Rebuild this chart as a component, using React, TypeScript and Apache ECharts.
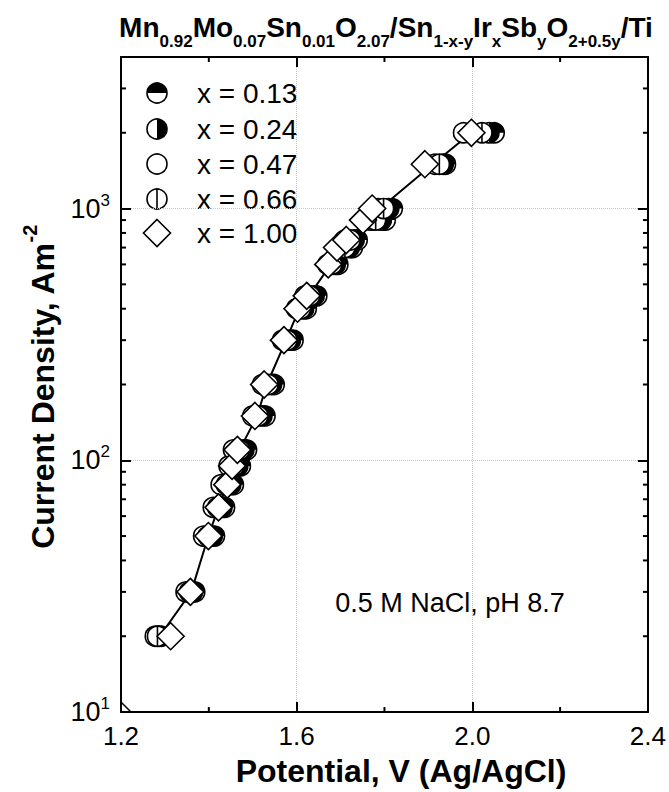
import React, { useEffect, useRef } from "react";
import * as echarts from "echarts";

// ---------- data ----------
const currents = [20, 30, 50, 65, 80, 95, 110, 150, 200, 300, 400, 450, 600, 700, 750, 900, 1000, 1500, 2000];
const potX013 = [1.292, 1.368, 1.413, 1.436, 1.456, 1.472, 1.486, 1.528, 1.549, 1.592, 1.622, 1.646, 1.694, 1.727, 1.738, 1.802, 1.818, 1.939, 2.050];
const potX024 = [1.287, 1.363, 1.408, 1.430, 1.450, 1.466, 1.480, 1.521, 1.543, 1.586, 1.616, 1.640, 1.688, 1.720, 1.731, 1.793, 1.810, 1.934, 2.038];
const potX047 = [1.278, 1.348, 1.388, 1.410, 1.428, 1.446, 1.456, 1.500, 1.522, 1.568, 1.600, 1.619, 1.671, 1.700, 1.710, 1.768, 1.785, 1.915, 1.980];
const potX066 = [1.283, 1.356, 1.398, 1.420, 1.440, 1.457, 1.470, 1.512, 1.535, 1.578, 1.609, 1.630, 1.680, 1.710, 1.722, 1.780, 1.798, 1.925, 2.022];
const potX100 = [1.313, 1.358, 1.399, 1.422, 1.442, 1.453, 1.465, 1.505, 1.526, 1.571, 1.602, 1.623, 1.672, 1.692, 1.713, 1.751, 1.772, 1.892, 1.998];
const fitPotential = [1.288, 1.360, 1.399, 1.422, 1.442, 1.458, 1.470, 1.510, 1.532, 1.576, 1.606, 1.628, 1.678, 1.706, 1.718, 1.772, 1.790, 1.910, 1.998];

const seriesNames = ["x = 0.13", "x = 0.24", "x = 0.47", "x = 0.66", "x = 1.00"];
const seriesKinds = ["topHalf", "rightHalf", "open", "vbar", "diamond"];
const seriesPots = [potX013, potX024, potX047, potX066, potX100];

const minorYTicks = [20, 30, 40, 50, 60, 70, 80, 90, 200, 300, 400, 500, 600, 700, 800, 900, 2000, 3000];
const minorXTicks = [1.4, 1.8, 2.2];

const titleParts = [
  ["m", "Mn"], ["s", "0.92"], ["m", "Mo"], ["s", "0.07"], ["m", "Sn"], ["s", "0.01"], ["m", "O"], ["s", "2.07"],
  ["m", "/Sn"], ["s", "1-x-y"], ["m", "Ir"], ["s", "x"], ["m", "Sb"], ["s", "y"], ["m", "O"], ["s", "2+0.5y"], ["m", "/Ti"],
];
const xAxisTitle = "Potential, V (Ag/AgCl)";
const yAxisTitle = "Current Density, Am";
const yAxisTitleSup = "-2";
const annotation = "0.5 M NaCl, pH 8.7";

// ---------- style ----------
const FONT = "'Liberation Sans', Arial, Helvetica, sans-serif";
const R = 10;
const D = 13.5;
const LW = 1.6;

function symbolShapes(kind: string, cx: number, cy: number): any[] {
  const st = { stroke: "#000", lineWidth: LW };
  if (kind === "diamond") {
    return [{
      type: "polygon",
      shape: { points: [[cx, cy - D], [cx + D, cy], [cx, cy + D], [cx - D, cy]] },
      style: { fill: "#fff", ...st },
    }];
  }
  const out: any[] = [{ type: "circle", shape: { cx, cy, r: R }, style: { fill: "#fff", ...st } }];
  if (kind === "topHalf") {
    out.push({ type: "sector", shape: { cx, cy, r: R, r0: 0, startAngle: Math.PI, endAngle: 2 * Math.PI, clockwise: true }, style: { fill: "#000" } });
  } else if (kind === "rightHalf") {
    out.push({ type: "sector", shape: { cx, cy, r: R, r0: 0, startAngle: -Math.PI / 2, endAngle: Math.PI / 2, clockwise: true }, style: { fill: "#000" } });
  } else if (kind === "vbar") {
    out.push({ type: "line", shape: { x1: cx, y1: cy - R, x2: cx, y2: cy + R }, style: { stroke: "#000", lineWidth: LW } });
  }
  return out;
}

export default function App() {
  const ref = useRef<HTMLDivElement>(null);
  useEffect(() => {
    if (!ref.current) return;
    const chart = echarts.init(ref.current, undefined, { renderer: "svg" });

    const axisLine = { show: true, onZero: false, lineStyle: { color: "#000", width: 2 } };
    const axisTick = { show: true, inside: true, length: 10, lineStyle: { color: "#000", width: 2 } };
    const split = { show: true, lineStyle: { color: "#c8c8c8", type: "dotted", width: 1 } };

    const markerSeries = seriesPots.map((pots, si) => ({
      type: "custom",
      name: seriesNames[si],
      xAxisIndex: 0,
      yAxisIndex: 0,
      z: 3,
      clip: false,
      data: currents.map((c, i) => [pots[i], c]),
      encode: { x: 0, y: 1 },
      renderItem: (params: any, api: any) => {
        const p = api.coord([api.value(0), api.value(1)]);
        return { type: "group", children: symbolShapes(seriesKinds[si], p[0], p[1]) };
      },
    }));

    const tickStyle = { stroke: "#000", lineWidth: 2 };
    const minorY = {
      type: "custom",
      xAxisIndex: 0,
      yAxisIndex: 0,
      z: 5,
      silent: true,
      clip: false,
      data: minorYTicks.map((v) => [1.2, v]),
      encode: { x: 0, y: 1 },
      renderItem: (params: any, api: any) => {
        const cs = params.coordSys;
        const y = api.coord([1.2, api.value(1)])[1];
        return {
          type: "group",
          children: [
            { type: "line", shape: { x1: cs.x, y1: y, x2: cs.x + 5, y2: y }, style: tickStyle },
            { type: "line", shape: { x1: cs.x + cs.width - 5, y1: y, x2: cs.x + cs.width, y2: y }, style: tickStyle },
          ],
        };
      },
    };
    const minorX = {
      type: "custom",
      xAxisIndex: 0,
      yAxisIndex: 0,
      z: 5,
      silent: true,
      clip: false,
      data: minorXTicks.map((v) => [v, 100]),
      encode: { x: 0, y: 1 },
      renderItem: (params: any, api: any) => {
        const cs = params.coordSys;
        const x = api.coord([api.value(0), 100])[0];
        return {
          type: "group",
          children: [
            { type: "line", shape: { x1: x, y1: cs.y + cs.height, x2: x, y2: cs.y + cs.height - 5 }, style: tickStyle },
            { type: "line", shape: { x1: x, y1: cs.y, x2: x, y2: cs.y + 5 }, style: tickStyle },
          ],
        };
      },
    };

    // title rich text
    const titleRich: any = {
      m: { fontSize: 28, fontWeight: "bold", fontFamily: FONT, fill: "#000", color: "#000", lineHeight: 46, verticalAlign: "middle" },
      s: { fontSize: 17, fontWeight: "bold", fontFamily: FONT, fill: "#000", color: "#000", lineHeight: 17, verticalAlign: "bottom" },
    };
    const titleText = titleParts.map(([k, t]) => `{${k}|${t}}`).join("");

    const legendGraphics: any[] = [];
    const legendRows = [93, 129, 164, 199, 233];
    seriesNames.forEach((name, i) => {
      legendGraphics.push({
        type: "group",
        children: symbolShapes(seriesKinds[i], 157, legendRows[i]),
      });
      legendGraphics.push({
        type: "text",
        x: 197,
        y: legendRows[i],
        style: { text: name, fontSize: 28, fontFamily: FONT, fill: "#000", align: "left", verticalAlign: "middle" },
      });
    });

    chart.setOption({
      animation: false,
      backgroundColor: "#fff",
      grid: { left: 121, top: 57, right: 17, bottom: 80, containLabel: false },
      xAxis: [
        {
          type: "value", min: 1.2, max: 2.4, interval: 0.4, position: "bottom",
          axisLine, axisTick,
          axisLabel: { color: "#000", fontSize: 26, fontFamily: FONT, margin: 11, formatter: (v: number) => v.toFixed(1) },
          splitLine: split,
        },
        {
          type: "value", min: 1.2, max: 2.4, interval: 0.4, position: "top",
          axisLine, axisTick, axisLabel: { show: false }, splitLine: { show: false },
        },
      ],
      yAxis: [
        {
          type: "log", logBase: 10, min: 10, max: 4000, position: "left",
          axisLine, axisTick,
          axisLabel: {
            color: "#000", fontFamily: FONT, margin: 11,
            formatter: (v: number) => {
              const e = Math.round(Math.log10(v));
              if (Math.abs(Math.pow(10, e) - v) > 1e-6 * v) return "";
              return `{b|10}{p|${e}}`;
            },
            rich: {
              b: { fontSize: 27, fontFamily: FONT, color: "#000", lineHeight: 34, verticalAlign: "middle" },
              p: { fontSize: 17, fontFamily: FONT, color: "#000", lineHeight: 16, verticalAlign: "top" },
            },
          },
          splitLine: split,
        },
        {
          type: "log", logBase: 10, min: 10, max: 4000, position: "right",
          axisLine, axisTick, axisLabel: { show: false }, splitLine: { show: false },
        },
      ],
      series: [
        {
          type: "line",
          name: "fit",
          xAxisIndex: 0,
          yAxisIndex: 0,
          z: 1,
          symbol: "none",
          lineStyle: { color: "#000", width: 2 },
          data: currents.map((c, i) => [fitPotential[i], c]),
        },
        ...markerSeries,
        minorY,
        minorX,
      ],
      graphic: [
        {
          type: "text", x: 386, y: 27, z: 10,
          style: { text: titleText, rich: titleRich, fill: "#000", fontFamily: FONT, fontSize: 28, fontWeight: "bold", align: "center", verticalAlign: "middle" },
        },
        {
          type: "text", x: 401, y: 771, z: 10,
          style: { text: xAxisTitle, fill: "#000", fontFamily: FONT, fontSize: 32, fontWeight: "bold", align: "center", verticalAlign: "middle" },
        },
        {
          type: "text", x: 43, y: 387, rotation: Math.PI / 2, z: 10,
          style: {
            text: `{m|${yAxisTitle}}{p|${yAxisTitleSup}}`,
            rich: {
              m: { fontSize: 32, fontWeight: "bold", fontFamily: FONT, fill: "#000", lineHeight: 46, verticalAlign: "middle" },
              p: { fontSize: 20, fontWeight: "bold", fontFamily: FONT, fill: "#000", lineHeight: 20, verticalAlign: "top" },
            },
            fill: "#000", fontFamily: FONT, fontSize: 32, fontWeight: "bold", align: "center", verticalAlign: "middle",
          },
        },
        {
          type: "text", x: 450, y: 603, z: 10,
          style: { text: annotation, fill: "#000", fontFamily: FONT, fontSize: 27, align: "center", verticalAlign: "middle" },
        },
        {
          type: "line", z: 10,
          shape: { x1: 121, y1: 702, x2: 131, y2: 712 },
          style: { stroke: "#000", lineWidth: 1.5 },
        },
        ...legendGraphics,
      ],
    });

    return () => chart.dispose();
  }, []);

  return (
    <div
      ref={ref}
      style={{ position: "fixed", left: 0, top: 0, width: 669, height: 792, background: "#fff" }}
    />
  );
}
